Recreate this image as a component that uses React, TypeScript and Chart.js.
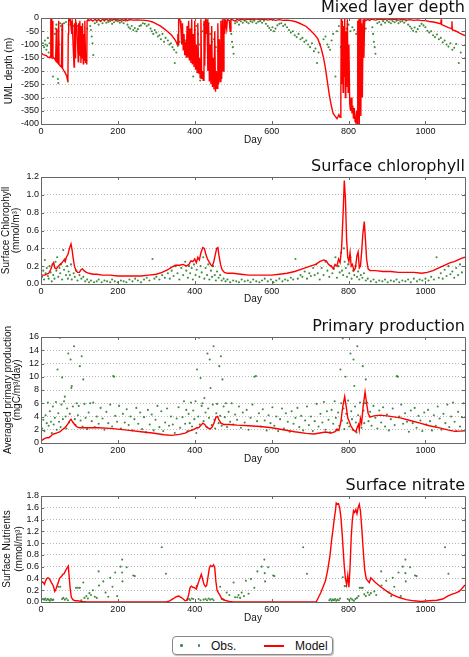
import React, { useEffect, useRef } from 'react';
import { Chart, registerables } from 'chart.js';
Chart.register(...registerables);

type Pt = [number, number];

const X_MAX = 1103;
const DAY_TICKS = [0, 200, 400, 600, 800, 1000];
const MLD_TICKS = [-400, -350, -300, -250, -200, -150, -100, -50, 0];
const CHL_TICKS = [0, 0.2, 0.4, 0.6, 0.8, 1.0, 1.2];
const PP_TICKS = [0, 2, 4, 6, 8, 10, 12, 14, 16];
const NIT_TICKS = [0, 0.2, 0.4, 0.6, 0.8, 1.0, 1.2, 1.4, 1.6, 1.8];

const TITLES = ['Mixed layer depth', 'Surface chlorophyll', 'Primary production', 'Surface nitrate'];
const Y_TITLES: (string | string[])[] = [
  'UML depth (m)',
  ['Surface Chlorophyll', '(mmol/m\u00b3)'],
  ['Averaged primary production', '(mgC/m\u00b3/day)'],
  ['Surface Nutrients', '(mmol/m\u00b3)'],
];
const LEGEND_LABELS = ['Obs.', 'Model'];

// ---------- Mixed layer depth ----------
const mldModel: Pt[] = [
  [0,-130],[3,-135],[6,-138],[10,-140],[14,-142],[18,-148],[22,-150],[24,-145],[25,0],[26,-148],[27,0],[28,-150],[30,-10],[31,-152],
  [33,-150],[36,-155],[38,-160],[40,-40],[41,-165],[44,-170],[46,-10],[47,-175],[50,-180],[53,-185],[55,-20],[56,-190],[60,-200],
  [64,-210],[67,-220],[69,-235],[70,-225],[71,-60],[72,0],[74,-10],[76,-5],[78,-5],[80,-60],[81,-5],[84,-120],[86,-185],[87,-20],
  [89,-150],[90,-10],[93,-30],[95,-100],[97,-165],[98,-20],[100,-140],[101,-10],[104,-170],[105,-30],[107,-150],[108,-20],[110,-173],
  [111,-60],[113,-160],[114,-10],[116,-170],[118,-140],[119,-175],[120,-10],[122,-5],[125,-10],[130,-6],[135,-12],[140,-5],[145,-10],
  [150,-6],[155,-12],[160,-5],[165,-9],[170,-4],[175,-10],[180,-5],[185,-9],[190,-4],[195,-8],[200,-5],[205,-10],[210,-6],[215,-9],
  [220,-5],[225,-10],[230,-6],[240,-8],[250,-7],[260,-8],[270,-9],[280,-11],[290,-15],[300,-22],
  [310,-30],[320,-40],[330,-52],[340,-65],[345,-75],[350,-85],[353,-95],[355,-100],[356,-60],[357,-100],[358,-5],[360,0],[362,-10],
  [364,-40],[366,-100],[368,-20],[370,-120],[372,-60],[374,-140],[376,-90],[378,-150],[380,-30],[382,-150],[384,-10],[386,-160],
  [388,-40],[390,-170],[392,-5],[394,-175],[396,-60],[398,-185],[400,-10],[402,-195],[404,-100],[406,-205],[408,-20],[410,-210],
  [412,-150],[414,-225],[416,-5],[418,-230],[420,-200],[422,-235],[424,-10],[426,-180],[428,0],[430,-60],[432,-5],[434,-200],
  [436,-20],[438,-240],[440,-100],[442,-250],[444,-30],[446,-260],[448,-150],[450,-270],[452,-50],[454,-278],[456,-200],[458,-265],
  [460,-20],[462,-250],[464,-80],[466,-240],[468,-10],[470,-230],[472,-5],[474,-200],[476,0],[478,-60],[480,-5],[483,-40],[485,-5],
  [490,-10],[492,-50],[494,-5],[500,-8],[505,-12],[510,-5],[515,-9],[520,-4],[530,-8],[540,-4],[550,-7],[560,-3],[570,-7],[580,-4],
  [590,-8],[600,-5],[610,-9],[620,-6],[630,-9],[640,-8],[650,-10],[660,-13],
  [670,-18],[680,-25],[690,-32],[700,-45],[710,-60],[720,-78],[728,-110],[735,-150],[740,-190],[745,-240],[750,-290],[755,-330],
  [760,-360],[765,-370],[770,-380],[775,-365],[778,-375],[780,-300],[781,0],[782,-250],[784,-10],[786,-280],[787,-30],[789,-220],
  [790,0],[792,-300],[793,-50],[795,-260],[797,-5],[799,-280],[801,-100],[803,-320],[805,-350],[807,-300],[809,-360],[811,-330],
  [813,-380],[815,-340],[817,-390],[819,-395],[821,-350],[823,-400],[824,-10],[825,-380],[827,-5],[828,-400],[830,0],[832,-370],
  [834,-20],[836,-300],[838,-5],[840,-150],[842,-5],[845,-10],[850,-5],[855,-9],[860,-4],[870,-8],[880,-4],[890,-7],[900,-3],
  [910,-7],[920,-4],[930,-8],[940,-5],[950,-8],[960,-6],[970,-9],
  [980,-7],[990,-10],[1000,-10],[1010,-13],[1020,-15],[1030,-18],[1040,-22],[1041,-5],[1042,-25],[1050,-30],[1060,-36],[1068,-40],
  [1069,-12],[1070,-44],[1080,-50],[1090,-58],[1103,-66],
];
const mldObs: Pt[] = [
  [5,-95],[8,-110],[10,-85],[12,-100],[14,-120],[16,-105],[18,-75],[20,-130],[22,-95],[31,-221],[36,-60],[38,-40],[40,-25],[42,-50],
  [44,-230],[45,-245],[46,-90],[48,-100],[50,-20],[52,-30],[55,-45],[60,-20],[65,-15],[70,-240],[72,-25],[80,-15],[85,-30],[88,-55],
  [92,-40],[96,-30],[100,-55],[103,-80],[106,-95],[110,-130],[112,-125],[118,-160],[120,-40],[128,-30],[130,-45],[132,-70],[134,-95],
  [136,-140],[140,-20],[145,-15],[150,-25],[155,-12],[160,-20],[165,-10],[170,-18],[175,-15],[180,-12],[185,-22],[190,-16],[195,-10],
  [200,-12],[205,-18],[210,-14],[215,-20],[220,-10],[225,-25],[228,-35],[232,-40],[236,-30],[240,-45],[244,-38],[248,-50],[252,-42],
  [256,-30],[260,-28],[265,-20],[270,-22],[275,-30],[280,-25],[285,-40],[288,-50],[292,-60],[296,-45],[300,-55],[304,-70],[308,-65],
  [312,-80],[316,-60],[320,-90],[324,-75],[330,-85],[334,-100],[338,-95],[342,-110],[346,-120],[348,-170],[352,-130],[356,-105],
  [360,-90],[368,-70],[372,-100],[376,-85],[380,-130],[384,-110],[388,-60],[392,-90],[396,-221],[400,-45],[404,-30],[408,-60],
  [412,-100],[414,-236],[416,-225],[420,-50],[424,-25],[430,-40],[436,-20],[440,-60],[445,-90],[450,-80],[455,-110],[460,-125],
  [465,-100],[470,-130],[475,-55],[480,-35],[493,-35],[495,-60],[497,-90],[499,-110],[501,-135],[505,-20],[510,-15],[515,-25],
  [520,-12],[525,-18],[530,-10],[535,-15],[540,-20],[545,-12],[550,-16],[555,-10],[560,-20],[565,-14],[570,-12],[575,-18],[580,-10],
  [585,-22],[590,-30],[594,-38],[598,-45],[602,-35],[606,-50],[610,-40],[615,-28],[620,-22],[625,-20],[630,-30],[635,-25],[640,-35],
  [645,-45],[650,-55],[655,-50],[660,-65],[665,-72],[670,-60],[675,-80],[680,-75],[685,-90],[690,-85],[695,-100],[700,-110],
  [705,-95],[710,-125],[714,-115],[718,-170],[722,-130],[726,-100],[735,-80],[740,-70],[745,-100],[748,-110],[752,-120],[756,-85],
  [760,-60],[766,-221],[770,-50],[775,-30],[780,-110],[784,-236],[786,-230],[790,-60],[795,-40],[800,-25],[805,-50],[810,-35],
  [815,-45],[820,-60],[825,-90],[830,-80],[835,-110],[840,-60],[845,-40],[862,-35],[864,-60],[866,-90],[868,-110],[870,-135],
  [875,-20],[880,-15],[885,-25],[890,-12],[895,-18],[900,-10],[905,-15],[910,-20],[915,-12],[920,-16],[925,-10],[930,-20],[935,-14],
  [940,-12],[945,-18],[950,-10],[955,-25],[960,-32],[964,-40],[968,-48],[972,-36],[976,-52],[980,-42],[985,-30],[990,-22],[995,-28],
  [1000,-35],[1005,-48],[1010,-55],[1015,-50],[1020,-65],[1025,-72],[1030,-62],[1035,-80],[1040,-75],[1045,-92],[1050,-85],
  [1055,-100],[1060,-108],[1065,-95],[1070,-120],[1075,-112],[1080,-98],[1087,-170],[1092,-130],
];

// ---------- Surface chlorophyll ----------
const chlModel: Pt[] = [
  [0,0.10],[5,0.10],[10,0.10],[15,0.11],[20,0.12],[25,0.16],[30,0.22],[33,0.24],[36,0.18],[40,0.17],[45,0.20],[50,0.22],[55,0.24],
  [60,0.27],[63,0.25],[66,0.30],[70,0.33],[74,0.40],[78,0.45],[81,0.38],[84,0.28],[87,0.20],[91,0.15],[95,0.13],[100,0.13],
  [104,0.16],[108,0.17],[112,0.15],[118,0.13],[125,0.12],[135,0.11],[145,0.11],[160,0.10],[180,0.10],[200,0.09],[220,0.09],
  [240,0.09],[260,0.09],[280,0.10],[300,0.11],[315,0.13],[330,0.16],[340,0.19],[350,0.21],[360,0.21],[370,0.22],[378,0.20],
  [385,0.22],[390,0.26],[395,0.25],[400,0.28],[404,0.24],[408,0.30],[412,0.27],[416,0.35],[421,0.41],[425,0.40],[429,0.33],
  [433,0.28],[437,0.25],[441,0.22],[445,0.20],[449,0.24],[453,0.32],[457,0.40],[460,0.41],[463,0.32],[467,0.22],[471,0.16],
  [477,0.13],[485,0.12],[500,0.12],[520,0.11],[540,0.10],[560,0.10],[580,0.10],[600,0.10],[620,0.11],[640,0.12],[660,0.14],
  [680,0.17],[700,0.20],[715,0.22],[725,0.25],[735,0.27],[742,0.26],[748,0.22],[755,0.20],[760,0.17],[765,0.22],[770,0.20],
  [774,0.28],[778,0.24],[782,0.40],[786,0.80],[789,1.16],[792,0.95],[795,0.50],[798,0.30],[801,0.25],[804,0.35],[807,0.20],
  [810,0.22],[814,0.15],[818,0.18],[822,0.32],[825,0.36],[828,0.18],[831,0.20],[834,0.35],[837,0.55],[841,0.70],[844,0.50],
  [847,0.28],[851,0.17],[856,0.15],[870,0.15],[890,0.14],[910,0.14],[930,0.13],[950,0.13],[970,0.13],[990,0.12],[1005,0.13],
  [1020,0.15],[1035,0.18],[1045,0.20],[1055,0.22],[1065,0.24],[1075,0.25],[1085,0.27],[1095,0.29],[1103,0.30],
];
const chlObs: Pt[] = [
  [3,0.08],[6,0.15],[8,0.05],[10,0.27],[12,0.12],[15,0.18],[18,0.09],[20,0.06],[22,0.2],[25,0.13],[28,0.03],[30,0.22],[32,0.1],
  [35,0.06],[38,0.25],[40,0.15],[42,0.3],[45,0.08],[48,0.18],[50,0.12],[52,0.22],[55,0.05],[58,0.38],[60,0.16],[62,0.28],[65,0.1],
  [68,0.2],[70,0.06],[72,0.14],[75,0.1],[78,0.22],[80,0.05],[85,0.12],[88,0.08],[92,0.15],[95,0.04],[100,0.1],[105,0.06],[110,0.08],
  [115,0.03],[120,0.05],[125,0.02],[130,0.04],[138,0.02],[145,0.03],[150,0.05],[158,0.02],[165,0.04],[172,0.03],[180,0.02],
  [185,0.05],[192,0.03],[200,0.02],[208,0.04],[215,0.03],[222,0.02],[230,0.05],[238,0.03],[245,0.06],[252,0.04],[260,0.02],
  [268,0.05],[275,0.07],[282,0.04],[290,0.28],[295,0.06],[300,0.08],[308,0.05],[315,0.1],[322,0.07],[330,0.12],[335,0.06],
  [340,0.15],[345,0.09],[350,0.2],[355,0.12],[360,0.05],[365,0.18],[370,0.1],[375,0.25],[378,0.15],[382,0.07],[385,0.2],
  [388,0.12],[392,0.18],[395,0.05],[398,0.22],[402,0.1],[405,0.16],[408,0.28],[412,0.08],[415,0.2],[418,0.13],[422,0.3],
  [425,0.06],[428,0.18],[432,0.1],[435,0.22],[438,0.05],[442,0.15],[445,0.08],[448,0.2],[452,0.1],[455,0.04],[458,0.14],
  [462,0.07],[466,0.1],[470,0.04],[475,0.06],[480,0.03],[485,0.05],[492,0.02],[500,0.04],[508,0.03],[515,0.02],[522,0.05],
  [530,0.03],[538,0.04],[545,0.02],[552,0.05],[560,0.03],[568,0.02],[575,0.04],[582,0.06],[590,0.03],[598,0.05],[605,0.02],
  [612,0.04],[620,0.06],[628,0.03],[635,0.05],[642,0.04],[650,0.07],[656,0.05],[662,0.28],[668,0.06],[675,0.1],[680,0.08],
  [686,0.14],[692,0.06],[698,0.12],[702,0.09],[708,0.18],[712,0.1],[716,0.22],[720,0.12],[725,0.05],[730,0.18],[735,0.1],
  [740,0.25],[745,0.15],[750,0.08],[755,0.2],[758,0.12],[762,0.17],[766,0.3],[770,0.07],[774,0.2],[777,0.13],[780,0.35],
  [783,0.15],[786,0.1],[788,0.4],[790,0.25],[793,0.18],[796,0.08],[799,0.22],[802,0.12],[805,0.3],[808,0.06],[812,0.15],
  [815,0.1],[818,0.2],[822,0.08],[825,0.14],[828,0.05],[832,0.1],[836,0.07],[840,0.12],[845,0.04],[850,0.06],[858,0.03],
  [865,0.05],[872,0.02],[880,0.04],[888,0.03],[895,0.05],[902,0.02],[910,0.04],[918,0.03],[925,0.05],[932,0.02],[940,0.04],
  [948,0.03],[955,0.05],[962,0.02],[970,0.06],[978,0.03],[985,0.05],[992,0.04],[1000,0.06],[1008,0.04],[1015,0.08],[1022,0.05],
  [1029,0.3],[1035,0.07],[1040,0.12],[1045,0.06],[1050,0.16],[1055,0.09],[1060,0.2],[1065,0.11],[1070,0.14],[1075,0.07],
  [1080,0.18],[1085,0.1],[1090,0.22],[1095,0.13],
];

// ---------- Primary production ----------
const ppModel: Pt[] = [
  [0,0.3],[5,0.5],[10,0.7],[15,0.8],[20,0.8],[25,1.0],[30,1.3],[35,1.4],[40,1.5],[45,1.6],[50,1.7],[55,2.0],[60,2.2],[65,2.5],
  [70,2.9],[74,3.3],[78,3.6],[82,3.2],[86,2.9],[90,2.6],[95,2.4],[100,2.3],[120,2.3],[150,2.3],[180,2.2],[200,2.1],[230,1.9],
  [260,1.7],[290,1.5],[320,1.25],[340,1.15],[360,1.3],[375,1.5],[385,1.8],[395,2.0],[405,2.3],[410,2.3],[415,2.6],[421,3.0],
  [426,2.8],[431,2.4],[440,2.1],[445,2.4],[450,3.0],[455,3.9],[459,4.0],[463,3.5],[468,3.0],[475,2.8],[490,2.8],[510,2.7],
  [540,2.6],[570,2.5],[600,2.3],[630,2.0],[660,1.7],[690,1.45],[710,1.35],[725,1.5],[740,1.65],[755,1.5],[765,1.7],[770,2.1],
  [775,1.9],[780,3.2],[785,5.5],[790,7.0],[794,5.5],[798,3.8],[802,3.2],[806,2.6],[810,2.2],[814,1.9],[819,1.7],[823,2.4],
  [826,2.8],[828,2.0],[831,3.7],[834,3.0],[838,5.5],[843,7.7],[847,6.0],[851,4.5],[856,3.9],[866,4.1],[882,4.2],[900,4.1],
  [935,3.8],[960,3.4],[986,3.0],[1010,2.6],[1040,2.25],[1060,1.95],[1077,1.75],[1090,1.8],[1103,1.85],
];
const ppObs: Pt[] = [
  [3,2.2],[6,3.5],[9,1.8],[12,4.2],[15,3.0],[18,6.1],[20,2.6],[23,4.8],[26,3.2],[28,1.5],[31,5.5],[33,2.8],[36,3.8],[39,6.2],
  [41,2.0],[43,11.1],[45,4.5],[47,3.2],[49,15.9],[51,2.4],[53,5.8],[55,9.9],[57,3.6],[60,6.3],[62,7.0],[64,4.0],[66,2.2],[68,5.2],
  [71,13.5],[73,3.1],[75,4.4],[77,12.6],[79,8.3],[80,8.6],[83,5.5],[86,14.6],[88,3.6],[90,2.7],[93,6.0],[96,4.2],[98,5.6],
  [101,11.6],[103,3.4],[106,13.1],[108,2.5],[110,9.6],[113,5.9],[116,3.8],[120,2.1],[124,4.6],[128,6.0],[132,3.3],[136,6.1],
  [140,2.4],[145,4.0],[150,2.9],[155,5.3],[160,3.7],[165,2.0],[170,4.7],[175,3.0],[180,5.8],[185,2.5],[188,10.1],[190,10.0],
  [193,4.1],[198,3.2],[203,5.6],[208,2.2],[213,4.4],[218,3.1],[223,5.1],[228,2.7],[233,4.0],[238,1.9],[243,3.6],[248,5.3],
  [253,2.9],[258,4.6],[263,2.1],[268,3.9],[273,1.6],[278,5.0],[283,2.8],[288,4.3],[293,1.9],[298,3.5],[303,5.6],[308,2.4],
  [313,4.8],[318,1.8],[323,3.1],[328,5.2],[333,2.6],[338,4.0],[343,2.8],[348,1.5],[353,3.7],[358,5.4],[362,2.3],[368,3.9],
  [372,6.3],[375,2.9],[378,5.0],[381,1.8],[384,4.4],[387,3.0],[390,6.1],[393,2.5],[396,4.9],[399,3.6],[402,6.3],[404,1.5],
  [406,11.1],[409,4.0],[411,15.9],[413,2.8],[415,9.8],[418,5.6],[420,6.0],[423,3.3],[425,6.8],[428,4.6],[431,2.4],[433,13.5],
  [435,5.2],[437,3.8],[439,12.6],[441,8.3],[444,2.7],[447,5.8],[449,14.6],[451,3.5],[453,2.2],[456,4.5],[458,5.9],[462,3.0],
  [464,11.6],[466,4.1],[468,13.1],[470,2.6],[472,9.6],[475,5.5],[478,3.9],[481,6.0],[484,2.4],[488,4.7],[492,3.2],[496,6.0],
  [500,2.8],[505,4.3],[510,3.5],[515,5.5],[520,2.3],[525,4.6],[530,3.1],[535,5.0],[540,2.0],[545,3.8],[550,5.8],[555,10.0],
  [559,10.1],[562,3.3],[567,4.5],[572,2.5],[577,5.1],[582,3.4],[587,1.9],[592,4.2],[597,3.0],[602,5.4],[607,2.6],[612,4.0],
  [617,1.8],[622,3.6],[627,5.2],[632,2.2],[637,4.5],[642,3.2],[647,1.7],[652,4.8],[657,2.9],[662,3.8],[667,5.3],[672,2.4],
  [677,4.1],[682,1.9],[687,3.4],[692,5.5],[697,2.7],[702,4.0],[707,1.8],[712,3.3],[717,5.9],[722,2.5],[727,4.4],[732,3.1],
  [736,6.2],[740,2.0],[744,4.8],[748,3.5],[752,1.6],[756,5.0],[760,2.9],[764,6.3],[767,3.8],[770,1.9],[773,4.6],[776,2.6],
  [779,11.1],[781,6.0],[783,3.4],[785,15.8],[787,5.2],[789,2.1],[792,10.0],[794,4.4],[797,3.0],[799,6.4],[802,2.5],[805,13.5],
  [807,4.8],[809,3.6],[811,2.0],[813,12.6],[815,8.6],[817,5.5],[819,3.1],[821,1.6],[823,14.6],[825,4.2],[828,2.8],[830,6.1],
  [832,3.5],[834,2.3],[837,11.6],[839,4.9],[841,3.0],[843,6.0],[845,9.6],[848,6.1],[852,3.3],[856,4.7],[860,2.6],[865,5.6],
  [870,3.8],[875,2.2],[880,4.9],[885,3.1],[890,5.4],[895,2.5],[900,4.3],[905,1.9],[910,3.6],[915,5.2],[920,2.7],[926,10.1],
  [928,10.0],[932,4.0],[937,5.8],[942,2.9],[947,4.5],[952,3.2],[957,1.7],[962,4.9],[967,3.0],[972,5.3],[977,2.3],[982,4.1],
  [987,3.4],[992,1.8],[997,4.6],[1002,2.8],[1007,5.0],[1012,3.3],[1017,1.9],[1022,4.2],[1027,2.6],[1032,5.5],[1037,3.7],
  [1042,2.0],[1047,4.4],[1052,3.0],[1057,5.8],[1062,2.4],[1067,4.0],[1072,6.1],[1076,3.2],[1080,1.8],[1085,4.7],[1090,2.5],
  [1095,3.9],[1099,6.0],
];

// ---------- Surface nitrate ----------
const nitModel: Pt[] = [
  [0,0.32],[3,0.34],[6,0.33],[9,0.30],[12,0.36],[15,0.40],[18,0.41],[21,0.40],[24,0.37],[27,0.33],[30,0.30],[33,0.25],[36,0.18],
  [39,0.22],[42,0.28],[45,0.33],[48,0.40],[51,0.42],[54,0.44],[57,0.47],[60,0.48],[63,0.52],[66,0.56],[68,0.58],[71,0.61],
  [73,0.45],[76,0.22],[79,0.08],[83,0.04],[88,0.02],[95,0.02],[105,0.01],[120,0.00],[200,0.00],[300,0.00],[326,0.00],[335,0.02],
  [345,0.06],[352,0.09],[358,0.10],[364,0.08],[370,0.05],[375,0.02],[380,0.03],[384,0.12],[388,0.25],[391,0.27],[395,0.25],
  [400,0.24],[404,0.22],[408,0.30],[412,0.38],[417,0.47],[420,0.40],[424,0.30],[428,0.26],[431,0.28],[435,0.45],[438,0.58],
  [441,0.62],[445,0.60],[449,0.63],[452,0.58],[455,0.35],[458,0.20],[462,0.15],[465,0.12],[470,0.06],[478,0.03],[490,0.01],
  [500,0.00],[600,0.00],[716,0.00],[722,0.08],[728,0.16],[734,0.26],[740,0.36],[746,0.55],[752,0.80],[756,1.05],[760,1.25],
  [763,1.42],[766,1.55],[768,1.68],[771,1.66],[774,1.67],[777,1.60],[780,1.45],[783,1.20],[786,0.90],[789,0.60],[792,0.40],
  [795,0.30],[798,0.45],[801,0.25],[804,0.60],[807,1.10],[810,1.40],[813,1.55],[816,1.52],[819,1.57],[822,1.50],[825,1.60],
  [828,1.66],[831,1.55],[834,1.30],[838,0.90],[842,0.55],[846,0.40],[850,0.36],[854,0.33],[858,0.41],[870,0.33],[885,0.25],
  [900,0.18],[915,0.12],[930,0.08],[950,0.04],[970,0.02],[988,0.01],[1010,0.02],[1030,0.03],[1045,0.05],[1058,0.10],
  [1068,0.13],[1078,0.15],[1088,0.18],[1095,0.23],[1103,0.29],
];
const nitObs: Pt[] = [
  [5,0.05],[8,0.04],[11,0.06],[14,0.03],[17,0.05],[20,0.04],[23,0.02],[26,0.05],[29,0.03],[32,0.04],[45,0.26],[50,0.26],[55,0.05],
  [58,0.07],[62,0.04],[66,0.06],[70,0.03],[91,0.24],[96,0.24],[101,0.24],[105,0.03],[110,0.33],[113,0.07],[118,0.1],[122,0.06],
  [126,0.15],[130,0.12],[135,0.2],[140,0.09],[145,0.07],[150,0.52],[151,0.28],[162,0.35],[168,0.16],[175,0.09],[180,0.41],
  [186,0.26],[193,0.5],[198,0.1],[207,0.6],[211,0.72],[211,0.5],[212,0.35],[223,0.59],[240,0.45],[244,0.44],[314,0.93],[325,0.48],
  [380,0.04],[385,0.05],[388,0.03],[392,0.06],[396,0.05],[405,0.27],[410,0.05],[415,0.03],[423,0.04],[428,0.05],[432,0.03],
  [436,0.06],[440,0.04],[445,0.05],[449,0.03],[466,0.26],[470,0.05],[475,0.04],[483,0.16],[490,0.12],[501,0.33],[505,0.08],
  [511,0.08],[514,0.12],[518,0.07],[522,0.16],[528,0.1],[533,0.36],[540,0.14],[546,0.39],[555,0.24],[563,0.52],[574,0.6],
  [581,0.72],[582,0.49],[583,0.35],[591,0.59],[604,0.45],[607,0.44],[682,0.93],[692,0.48],[750,0.03],[753,0.05],[756,0.02],
  [759,0.04],[762,0.03],[765,0.05],[768,0.02],[771,0.04],[775,0.03],[778,0.06],[785,0.42],[790,0.27],[794,0.27],[798,0.05],
  [802,0.03],[806,0.06],[810,0.04],[814,0.02],[818,0.05],[822,0.07],[826,0.1],[829,0.24],[833,0.24],[837,0.24],[841,0.13],
  [845,0.1],[850,0.16],[854,0.12],[858,0.15],[867,0.18],[872,0.12],[885,0.52],[886,0.28],[898,0.36],[905,0.16],[911,0.1],
  [915,0.41],[919,0.26],[930,0.5],[936,0.1],[941,0.6],[948,0.72],[948,0.49],[949,0.35],[960,0.59],[973,0.45],[977,0.44],
  [1051,0.93],[1060,0.48],
];

const MODEL_COLOR = '#ff0000';
const OBS_COLOR = 'rgba(30,120,30,0.85)';
const TICK_FONT = { family: 'Liberation Sans', size: 9 };
const LABEL_FONT_FAMILY = 'Liberation Sans';

interface PanelProps {
  top: number;
  plotH: number;
  title: string;
  yTitle: string | string[];
  yLineHeight: number;
  yPad: number;
  yMin: number;
  yMax: number;
  yTicks: number[];
  decimals: number;
  model: Pt[];
  obs: Pt[];
}

const CANVAS_W = 469;
const CANVAS_H = 150;
const PLOT_TOP = 18;

const framePlugin = {
  id: 'frame',
  afterDraw(chart: any) {
    const { ctx, chartArea } = chart;
    const { left, right, top, bottom } = chartArea;
    ctx.save();
    ctx.strokeStyle = '#666';
    ctx.lineWidth = 1;
    ctx.beginPath();
    ctx.rect(Math.round(left) + 0.5, Math.round(top) + 0.5, Math.round(right - left), Math.round(bottom - top));
    ctx.stroke();
    const xs = chart.scales.x;
    const ys = chart.scales.y;
    ctx.beginPath();
    xs.ticks.forEach((t: any) => {
      const px = Math.round(xs.getPixelForValue(t.value)) + 0.5;
      ctx.moveTo(px, bottom); ctx.lineTo(px, bottom - 3);
      ctx.moveTo(px, top); ctx.lineTo(px, top + 3);
    });
    ys.ticks.forEach((t: any) => {
      const py = Math.round(ys.getPixelForValue(t.value)) + 0.5;
      ctx.moveTo(left, py); ctx.lineTo(left + 3, py);
      ctx.moveTo(right, py); ctx.lineTo(right - 3, py);
    });
    ctx.stroke();
    ctx.restore();
  },
};

function Panel(p: PanelProps) {
  const ref = useRef<HTMLCanvasElement | null>(null);
  useEffect(() => {
    if (!ref.current) return;
    const xH = CANVAS_H - PLOT_TOP - p.plotH;
    const chart = new Chart(ref.current, {
      type: 'scatter',
      data: {
        datasets: [
          {
            label: LEGEND_LABELS[1],
            data: p.model.map(([x, y]) => ({ x, y })),
            showLine: true,
            borderColor: MODEL_COLOR,
            borderWidth: 1.4,
            pointRadius: 0,
            tension: 0,
            order: 0,
          } as any,
          {
            label: LEGEND_LABELS[0],
            data: p.obs.map(([x, y]) => ({ x, y })),
            pointRadius: 1.05,
            backgroundColor: OBS_COLOR,
            borderWidth: 0,
            order: 1,
          } as any,
        ],
      },
      options: {
        animation: false,
        responsive: false,
        events: [],
        layout: { padding: { left: 0, right: 4, top: 0, bottom: 0 } },
        plugins: {
          legend: { display: false },
          tooltip: { enabled: false },
          title: {
            display: true,
            text: p.title,
            align: 'end',
            color: '#111',
            font: { family: 'DejaVu Sans', size: 16, weight: 'normal', lineHeight: 1 },
            padding: { top: 0, bottom: 2 },
          },
        },
        scales: {
          x: {
            type: 'linear',
            min: 0,
            max: X_MAX,
            afterBuildTicks: (s: any) => { s.ticks = DAY_TICKS.map((v) => ({ value: v })); },
            afterFit: (s: any) => { s.height = xH; },
            ticks: { font: TICK_FONT, color: '#111', padding: 2, maxRotation: 0, autoSkip: false, callback: (v: any) => String(v) },
            grid: { display: false, drawTicks: false },
            border: { display: false },
            title: {
              display: true,
              text: 'Day',
              color: '#111',
              font: { family: LABEL_FONT_FAMILY, size: 10, lineHeight: 1.2 },
              padding: { top: 0, bottom: 3.5 },
            },
          },
          y: {
            type: 'linear',
            min: p.yMin,
            max: p.yMax,
            afterBuildTicks: (s: any) => { s.ticks = p.yTicks.map((v) => ({ value: v })); },
            afterFit: (s: any) => { s.width = 41; },
            ticks: { font: TICK_FONT, color: '#111', padding: 2, autoSkip: false, callback: (v: any) => Number(v).toFixed(p.decimals) },
            grid: { color: '#b8b8b8', drawTicks: false, lineWidth: 1 },
            border: { display: false, dash: [1, 2] },
            title: {
              display: true,
              text: p.yTitle,
              color: '#111',
              font: { family: LABEL_FONT_FAMILY, size: 10, lineHeight: p.yLineHeight },
              padding: { top: p.yPad, bottom: 0 },
            },
          },
        },
      } as any,
      plugins: [framePlugin],
    });
    return () => chart.destroy();
  }, []);
  return (
    <canvas
      ref={ref}
      width={CANVAS_W}
      height={CANVAS_H}
      style={{ position: 'absolute', left: 0, top: p.top, width: CANVAS_W, height: CANVAS_H, display: 'block' }}
    />
  );
}

function Legend() {
  return (
    <div
      style={{
        position: 'absolute', left: 172, top: 636, width: 161, height: 19, boxSizing: 'border-box',
        border: '1px solid #888', borderRadius: 4, background: '#fff', boxShadow: '1px 1px 1px rgba(0,0,0,0.25)',
        fontFamily: 'Liberation Sans', fontSize: 12, color: '#111',
      }}
    >
      <span style={{ position: 'absolute', left: 7, top: 7, width: 2.5, height: 2.5, borderRadius: '50%', background: OBS_COLOR }} />
      <span style={{ position: 'absolute', left: 24.5, top: 7, width: 2.5, height: 2.5, borderRadius: '50%', background: OBS_COLOR }} />
      <span style={{ position: 'absolute', left: 38, top: 2, lineHeight: '14px' }}>{LEGEND_LABELS[0]}</span>
      <span style={{ position: 'absolute', left: 91, top: 8, width: 20, height: 1.5, background: MODEL_COLOR }} />
      <span style={{ position: 'absolute', left: 122, top: 2, lineHeight: '14px' }}>{LEGEND_LABELS[1]}</span>
    </div>
  );
}

export default function App() {
  return (
    <div style={{ position: 'absolute', left: 0, top: 0, width: 469, height: 657, background: '#fff', overflow: 'hidden' }}>
      <Panel top={0} plotH={106} title={TITLES[0]} yTitle={Y_TITLES[0]} yLineHeight={1.2} yPad={3}
        yMin={-400} yMax={0} yTicks={MLD_TICKS} decimals={0} model={mldModel} obs={mldObs} />
      <Panel top={159} plotH={107} title={TITLES[1]} yTitle={Y_TITLES[1]} yLineHeight={1.0} yPad={1.5}
        yMin={0} yMax={1.2} yTicks={CHL_TICKS} decimals={1} model={chlModel} obs={chlObs} />
      <Panel top={319} plotH={106} title={TITLES[2]} yTitle={Y_TITLES[2]} yLineHeight={0.95} yPad={3}
        yMin={0} yMax={16} yTicks={PP_TICKS} decimals={0} model={ppModel} obs={ppObs} />
      <Panel top={478} plotH={106} title={TITLES[3]} yTitle={Y_TITLES[3]} yLineHeight={1.25} yPad={0.5}
        yMin={0} yMax={1.8} yTicks={NIT_TICKS} decimals={1} model={nitModel} obs={nitObs} />
      <Legend />
    </div>
  );
}
